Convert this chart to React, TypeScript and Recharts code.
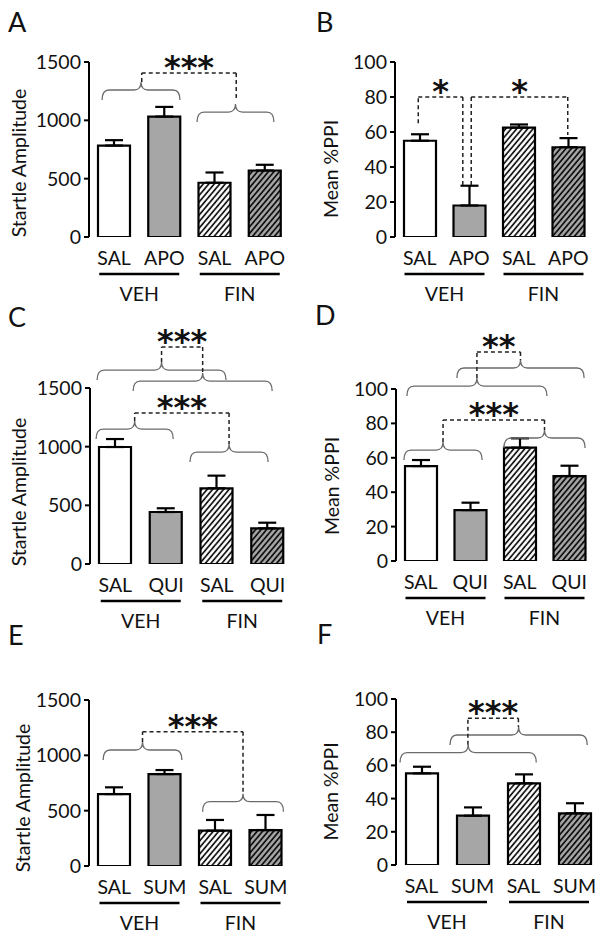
import { BarChart, Bar, XAxis, YAxis, ErrorBar, Cell, ReferenceLine } from 'recharts';

const FONT = 'Lato, "Open Sans", sans-serif';

// shared
const groups = ['VEH', 'FIN'];
const groupTicks = [1, 3];
const startleTicks = [0, 500, 1000, 1500];
const ppiTicks = [0, 20, 40, 60, 80, 100];

// A / B : apomorphine
const drugAB = ['SAL', 'APO', 'SAL', 'APO'];
const startleA = [784, 1032, 465, 570];
const startleErrA = [46, 83, 88, 49];
const ppiB = [55, 18, 62.5, 51.3];
const ppiErrB = [3.7, 11.3, 1.8, 5.2];

// C / D : quinpirole
const drugCD = ['SAL', 'QUI', 'SAL', 'QUI'];
const startleC = [997, 443, 645, 304];
const startleErrC = [68, 32, 108, 48];
const ppiD = [55.2, 29.6, 65.9, 49.4];
const ppiErrD = [3.5, 4.3, 5.4, 6.0];

// E / F : sumanirole
const drugEF = ['SAL', 'SUM', 'SAL', 'SUM'];
const startleE = [650, 831, 319, 325];
const startleErrE = [61, 36, 97, 136];
const ppiF = [55.2, 29.7, 49.2, 31.1];
const ppiErrF = [4, 5, 5.4, 6.1];

// braces: [from slot, to slot, level]   (slots: 0..4 across the four bars)
// links:  [left slot, right slot, top, left foot, right foot, stars]
const bracesA = [[0.26, 1.81, 1260], [2.15, 3.68, 1071]];
const linksA = [[1.05, 2.93, 1406, 1329, 1183, '***']];
const bracesB: number[][] = [];
const linksB = [[0.47, 1.37, 80, 65, 29.7, '*'], [1.54, 3.49, 80, 29.7, 58.3, '*']];
const bracesC = [[0.14, 2.68, 1653], [0.85, 3.59, 1559], [0.12, 1.64, 1150], [1.97, 3.51, 954]];
const linksC = [[1.41, 2.22, 1849, 1721, 1627, '***'], [0.88, 2.74, 1287, 1218, 1022, '***']];
const bracesD = [[0.22, 3.05, 101.7], [1.23, 3.8, 112.2], [0.16, 1.74, 64.5], [2.18, 3.82, 71.5]];
const linksD = [[1.635, 2.515, 121.5, 106.4, 116.9, '**'], [0.95, 3.0, 82, 69.2, 76.2, '***']];
const bracesE = [[0.28, 1.84, 1048], [2.25, 3.85, 581]];
const linksE = [[1.06, 3.05, 1214, 1120, 653, '***']];
const bracesF = [[0.08, 2.75, 67.7], [1.06, 3.75, 78.3]];
const linksF = [[1.41, 2.4, 88.4, 72.5, 83.1, '***']];

const DrugTick = (p: any) => (
  <text x={p.x} y={p.y + 20} textAnchor="middle" dominantBaseline="central" fontSize={19.5} fontFamily={FONT} fill="#111">
    {p.payload.value}
  </text>
);

const GroupTick = (p: any) => (
  <g>
    <line x1={p.x - 40} x2={p.x + 40} y1={p.y + 9} y2={p.y + 9} stroke="#000" strokeWidth={2.6} />
    <text x={p.x} y={p.y + 28} textAnchor="middle" dominantBaseline="central" fontSize={19.5} fontFamily={FONT} fill="#111">
      {groups[(p.payload.value - 1) / 2]}
    </text>
  </g>
);

const braceShape = (lp: any) => {
  const { x1, x2, y1: y } = lp;
  const xm = (x1 + x2) / 2;
  const d = 10, t = 8, r = 7;
  const path = `M${x1},${y + d} Q${x1},${y} ${x1 + r},${y} L${xm - r},${y} Q${xm},${y} ${xm},${y - t} ` +
    `Q${xm},${y} ${xm + r},${y} L${x2 - r},${y} Q${x2},${y} ${x2},${y + d}`;
  return <path d={path} fill="none" stroke="#6b6b6b" strokeWidth={1.3} />;
};

const linkShape = (stars: string) => (lp: any) => (
  <g>
    <line x1={lp.x1} y1={lp.y1} x2={lp.x2} y2={lp.y2} stroke="#222" strokeWidth={1.5} strokeDasharray="4 3" />
    <text x={(lp.x1 + lp.x2) / 2} y={lp.y1 + 5} textAnchor="middle" fontFamily="DejaVu Sans" fontWeight="bold" fontSize={32} fill="#111">
      {stars}
    </text>
  </g>
);

function Panel(p: any) {
  const rows = p.drug.map((d: string, i: number) => ({ drug: d, pos: i + 0.5, v: p.vals[i], e: [0, p.errs[i]] }));
  const h = p.mt + p.plotH + 70;
  const fills = ['#fff', '#a6a6a6', `url(#hw-${p.id})`, `url(#hg-${p.id})`];
  const cy = p.mt + p.plotH / 2 + p.shift;
  const dash = { stroke: '#222', strokeWidth: 1.5, strokeDasharray: '4 3' };
  return (
    <div style={{ position: 'absolute', left: p.x0, top: p.y0 }}>
      <BarChart width={p.w} height={h} data={rows} margin={{ top: p.mt, right: p.w - p.yW - p.plotW, bottom: 2, left: 0 }}>
        <defs>
          <pattern id={`hw-${p.id}`} patternUnits="userSpaceOnUse" width={4.2} height={10} patternTransform="rotate(40)">
            <rect width={4.2} height={10} fill="#fff" />
            <line x1={1} y1={0} x2={1} y2={10} stroke="#000" strokeWidth={1.6} />
          </pattern>
          <pattern id={`hg-${p.id}`} patternUnits="userSpaceOnUse" width={4.2} height={10} patternTransform="rotate(40)">
            <rect width={4.2} height={10} fill="#a8a8a8" />
            <line x1={1} y1={0} x2={1} y2={10} stroke="#000" strokeWidth={1.6} />
          </pattern>
        </defs>
        <XAxis xAxisId="c" dataKey="drug" axisLine={false} tickLine={false} tickSize={0} tickMargin={0} height={28} interval={0} tick={<DrugTick />} />
        <XAxis xAxisId="g" dataKey="pos" type="number" domain={[0, 4]} ticks={groupTicks} allowDataOverflow axisLine={false} tickLine={false}
          tickSize={0} tickMargin={0} height={40} interval={0} tick={<GroupTick />} />
        <YAxis
          width={p.yW}
          domain={[0, p.yMax]}
          ticks={p.yTicks}
          interval={0}
          allowDataOverflow
          axisLine={{ stroke: '#000', strokeWidth: 2 }}
          tickLine={{ stroke: '#000', strokeWidth: 2 }}
          tickSize={5}
          tickMargin={3}
          tick={{ fontSize: 19.5, fontFamily: FONT, fill: '#111' }}
          label={() => (
            <text x={p.labelX} y={cy} transform={`rotate(-90, ${p.labelX}, ${cy})`} textAnchor="middle" dominantBaseline="central"
              fontSize={19.5} fontFamily={FONT} fill="#111">
              {p.yLabel}
            </text>
          )}
        />
        <Bar xAxisId="c" dataKey="v" barSize={32} stroke="#000" strokeWidth={2.2} isAnimationActive={false}>
          {rows.map((_: any, i: number) => <Cell key={i} fill={fills[i]} />)}
          <ErrorBar dataKey="e" width={9} stroke="#000" strokeWidth={2.2} direction="y" />
        </Bar>
        {p.braces.map((b: number[], i: number) => (
          <ReferenceLine key={`b${i}`} xAxisId="g" ifOverflow="visible" segment={[{ x: b[0], y: b[2] }, { x: b[1], y: b[2] }]} shape={braceShape} />
        ))}
        {p.links.map((l: any[], i: number) => [
          <ReferenceLine key={`la${i}`} xAxisId="g" ifOverflow="visible" {...dash} segment={[{ x: l[0], y: l[3] }, { x: l[0], y: l[2] }]} />,
          <ReferenceLine key={`lb${i}`} xAxisId="g" ifOverflow="visible" {...dash} segment={[{ x: l[1], y: l[2] }, { x: l[1], y: l[4] }]} />,
          <ReferenceLine key={`lt${i}`} xAxisId="g" ifOverflow="visible" segment={[{ x: l[0], y: l[2] }, { x: l[1], y: l[2] }]} shape={linkShape(l[5])} />,
        ])}
      </BarChart>
    </div>
  );
}

const Letter = ({ x, y, t }: any) => (
  <div style={{ position: 'absolute', left: x, top: y, fontFamily: FONT, fontSize: 27, lineHeight: '26px', color: '#111' }}>{t}</div>
);

export default function App() {
  return (
    <div style={{ position: 'absolute', left: 0, top: 0, width: 602, height: 937, background: '#fff', overflow: 'hidden' }}>
      <Panel id="a" x0={0} y0={0} w={300} yW={89} plotW={201} mt={62} plotH={175} drug={drugAB} vals={startleA} errs={startleErrA}
        yMax={1500} yTicks={startleTicks} yLabel="Startle Amplitude" labelX={18} shift={13.5} braces={bracesA} links={linksA} />
      <Panel id="b" x0={300} y0={0} w={302} yW={95} plotW={198} mt={62} plotH={175} drug={drugAB} vals={ppiB} errs={ppiErrB}
        yMax={100} yTicks={ppiTicks} yLabel="Mean %PPI" labelX={30.5} shift={19.5} braces={bracesB} links={linksB} />
      <Panel id="c" x0={0} y0={310} w={300} yW={90} plotW={203} mt={78} plotH={176} drug={drugCD} vals={startleC} errs={startleErrC}
        yMax={1500} yTicks={startleTicks} yLabel="Startle Amplitude" labelX={18.5} shift={16} braces={bracesC} links={linksC} />
      <Panel id="d" x0={300} y0={310} w={302} yW={96} plotW={198} mt={79} plotH={172} drug={drugCD} vals={ppiD} errs={ppiErrD}
        yMax={100} yTicks={ppiTicks} yLabel="Mean %PPI" labelX={31.5} shift={11} braces={bracesD} links={linksD} />
      <Panel id="e" x0={0} y0={620} w={300} yW={89} plotW={202} mt={80} plotH={166} drug={drugEF} vals={startleE} errs={startleErrE}
        yMax={1500} yTicks={startleTicks} yLabel="Startle Amplitude" labelX={22.5} shift={15} braces={bracesE} links={linksE} />
      <Panel id="f" x0={300} y0={620} w={302} yW={96} plotW={204} mt={79} plotH={166} drug={drugEF} vals={ppiF} errs={ppiErrF}
        yMax={100} yTicks={ppiTicks} yLabel="Mean %PPI" labelX={30} shift={9.5} braces={bracesF} links={linksF} />
      <Letter x={8} y={9} t="A" />
      <Letter x={316} y={9} t="B" />
      <Letter x={8} y={304} t="C" />
      <Letter x={315} y={302} t="D" />
      <Letter x={8} y={622} t="E" />
      <Letter x={317} y={621} t="F" />
    </div>
  );
}
